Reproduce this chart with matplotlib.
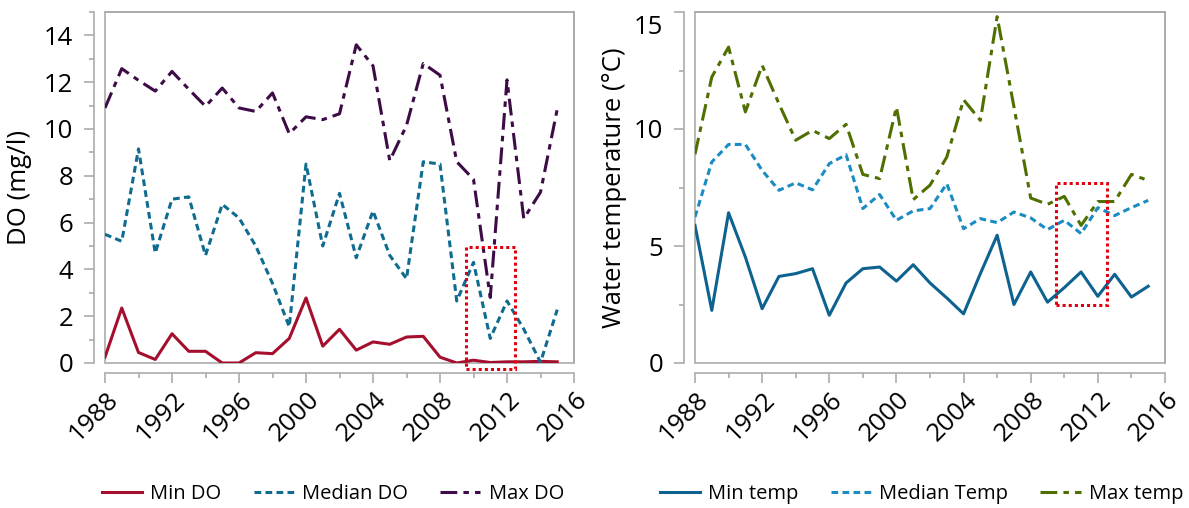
import numpy as np
import matplotlib
matplotlib.use("Agg")
import matplotlib.pyplot as plt
from matplotlib.patches import Rectangle
from matplotlib.transforms import ScaledTranslation

plt.rcParams['font.family'] = ['Open Sans', 'DejaVu Sans']

# Datos (1988-2015)
years = list(range(1988, 2016))

min_do = [0.25, 2.35, 0.45, 0.15, 1.25, 0.5, 0.5, 0.0, 0.0, 0.44, 0.4, 1.05, 2.78,
          0.72, 1.44, 0.55, 0.9, 0.8, 1.11, 1.14, 0.25, 0.0, 0.12, 0.02, 0.05, 0.05,
          0.07, 0.05]
median_do = [5.5, 5.2, 9.15, 4.7, 7.0, 7.1, 4.6, 6.78, 6.2, 5.0, 3.4, 1.55, 8.5,
             5.0, 7.25, 4.5, 6.5, 4.6, 3.6, 8.6, 8.5, 2.65, 4.3, 1.05, 2.65, 1.45,
             0.03, 2.28]
max_do = [10.9, 12.58, 12.08, 11.62, 12.46, 11.7, 10.97, 11.75, 10.9, 10.75, 11.54,
          9.8, 10.52, 10.4, 10.65, 13.6, 12.7, 8.65, 10.15, 12.8, 12.3, 8.6, 7.85,
          2.8, 12.1, 6.17, 7.3, 10.85]

min_temp = [5.88, 2.25, 6.42, 4.53, 2.32, 3.7, 3.82, 4.03, 2.04, 3.42, 4.03, 4.1,
            3.5, 4.2, 3.42, 2.78, 2.1, 3.82, 5.46, 2.5, 3.89, 2.6, 3.22, 3.89, 2.85,
            3.79, 2.82, 3.28]
median_temp = [6.24, 8.59, 9.34, 9.34, 8.23, 7.38, 7.7, 7.4, 8.52, 8.9, 6.6, 7.2,
               6.1, 6.5, 6.6, 7.66, 5.74, 6.17, 6.0, 6.45, 6.2, 5.7, 6.1, 5.53, 6.64,
               6.3, 6.64, 6.95]
max_temp = [8.92, 12.22, 13.5, 10.73, 12.72, 11.08, 9.52, 9.94, 9.59, 10.2, 8.06,
            7.88, 10.94, 6.98, 7.6, 8.8, 11.25, 10.37, 14.8, 10.95, 7.05, 6.78, 7.12,
            5.88, 6.9, 6.9, 8.06, 7.8]

# Recuadros rojos (x0, x1, y0, y1)
box_do = (2009.55, 2012.45, -0.25, 4.95)
box_temp = (2009.5, 2012.55, 2.5, 7.7)

GRAY = '#ABABAB'
LW = 2.2
SOLID = '-'
DOTS = (0, (2.2, 1.4))
DASHDOT = (0, (5.5, 2, 1.8, 2))
FS = 18.5

fig = plt.figure(figsize=(11.89, 5.08), dpi=100)
ax1 = fig.add_axes([105 / 1189, 1 - 363 / 508, 469 / 1189, 351 / 508])
ax2 = fig.add_axes([695 / 1189, 1 - 363 / 508, 470 / 1189, 351 / 508])


def style_axis(ax):
    for s in ax.spines.values():
        s.set_color(GRAY)
        s.set_linewidth(1.2)
    ax.spines['left'].set_position(('outward', 8))
    ax.spines['bottom'].set_position(('outward', 7.5))
    # marco del área de trazado
    ax.add_patch(Rectangle((0, 0), 1, 1, transform=ax.transAxes, fill=False,
                           edgecolor=GRAY, lw=1.2, clip_on=False, zorder=1))
    ax.set_xlim(1988, 2016)
    ax.set_xticks(range(1988, 2017, 4))
    ax.set_xticks(range(1988, 2017, 2), minor=True)
    ax.tick_params(axis='both', which='major', color=GRAY, width=1.2, length=7,
                   labelsize=FS, direction='out')
    ax.tick_params(axis='both', which='minor', color=GRAY, width=1.2, length=3.6,
                   direction='out')
    ax.tick_params(axis='x', which='major', pad=9)
    ax.tick_params(axis='y', which='major', pad=8)
    ax.tick_params(right=False, top=False, which='both')
    for lab in ax.get_xticklabels():
        lab.set_rotation(45)
        lab.set_ha('right')
        lab.set_va('center')
        lab.set_rotation_mode('anchor')
        lab.set_transform(lab.get_transform() +
                          ScaledTranslation(7 / 72, 0, fig.dpi_scale_trans))


def red_box(ax, b):
    ax.add_patch(Rectangle((b[0], b[2]), b[1] - b[0], b[3] - b[2], fill=False,
                           edgecolor='#E0000F', lw=LW, linestyle=(0, (1, 1)),
                           clip_on=False, zorder=5))


# Panel izquierdo: oxígeno disuelto
ax1.plot(years, min_do, color='#A50F2D', lw=LW, ls=SOLID, label='Min DO')
ax1.plot(years, median_do, color='#0F6C90', lw=LW, ls=DOTS, label='Median DO')
ax1.plot(years, max_do, color='#3D0B46', lw=LW, ls=DASHDOT, label='Max DO')
ax1.set_ylim(0, 15)
ax1.set_yticks(range(0, 15, 2))
ax1.set_yticks(range(0, 16, 1), minor=True)
style_axis(ax1)
red_box(ax1, box_do)
ax1.set_ylabel('DO (mg/l)', fontsize=FS)
ax1.yaxis.set_label_coords(-0.155, 0.5)

# Panel derecho: temperatura del agua
ax2.plot(years, min_temp, color='#0E628F', lw=LW, ls=SOLID, label='Min temp')
ax2.plot(years, median_temp, color='#1B8CC3', lw=LW, ls=DOTS, label='Median Temp')
ax2.plot(years, max_temp, color='#4F6F00', lw=LW, ls=DASHDOT, label='Max temp')
ax2.set_ylim(0, 15)
ax2.set_yticks([0, 5, 10, 15])
ax2.set_yticks(np.arange(0, 15.1, 2.5), minor=True)
style_axis(ax2)
top_lab = ax2.get_yticklabels()[-1]
top_lab.set_transform(top_lab.get_transform() +
                      ScaledTranslation(0, -9 / 72, fig.dpi_scale_trans))
red_box(ax2, box_temp)
ax2.set_ylabel('Water temperature (°C)', fontsize=FS)
ax2.yaxis.set_label_coords(-0.145, 0.5)

leg_kw = dict(ncol=3, frameon=False, fontsize=14.5, handlelength=2.0,
              handletextpad=0.4, columnspacing=1.6, loc='center')
h1, l1 = ax1.get_legend_handles_labels()
fig.legend(h1, l1, bbox_to_anchor=(0.280, 0.028), **leg_kw)
h2, l2 = ax2.get_legend_handles_labels()
fig.legend(h2, l2, bbox_to_anchor=(0.775, 0.028), **leg_kw)

fig.savefig('out.png', dpi=100)
